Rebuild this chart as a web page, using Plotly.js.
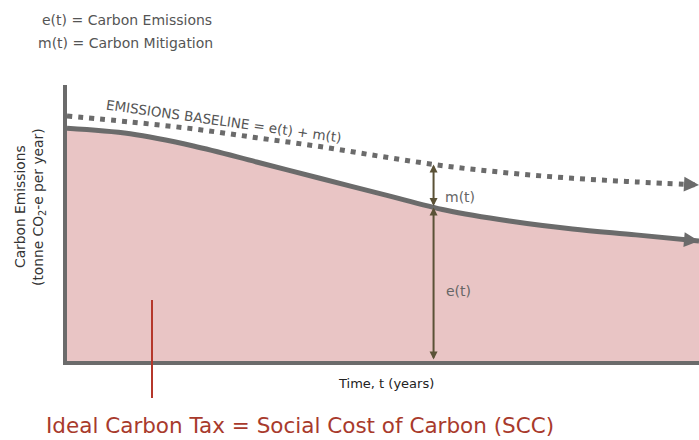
<!DOCTYPE html>
<html>
<head>
<meta charset="utf-8">
<script src="https://cdn.plot.ly/plotly-3.0.1.min.js"></script>
<style>html,body{margin:0;padding:0;background:#fff;}#chart{width:699px;height:440px;}</style>
</head>
<body>
<div id="chart"></div>
<script>
// Conceptual data (time in arbitrary years, emissions in arbitrary units)
const timeT = [0, 1, 2, 3, 4, 5, 6, 7, 8, 9, 10];
const emissions = [8.43, 8.23, 7.79, 7.21, 6.62, 6.04, 5.46, 5.07, 4.78, 4.57, 4.35];
const baseline = [8.88, 8.66, 8.41, 8.09, 7.77, 7.40, 7.06, 6.81, 6.62, 6.49, 6.38];
const markT = 5.8;
const baselineAtMark = 7.12;
const emissionsAtMark = 5.56;

const legendLines = ["e(t) = Carbon Emissions", "m(t) = Carbon Mitigation"];
const baselineLabel = "EMISSIONS BASELINE = e(t) + m(t)";
const yTitleLines = ["Carbon Emissions", "(tonne CO<sub>2</sub>-e per year)"];
const xTitle = "Time, t (years)";
const taxLabel = "Ideal Carbon Tax = Social Cost of Carbon (SCC)";

const GRAY = '#6b6b6b';
const L = 67, R = 699, T = 85, B = 361;
const P = (px, py) => ({x: (px - L) / (R - L), y: (B - py) / (B - T), xref: 'paper', yref: 'paper'});
const FONT = 'DejaVu Sans, sans-serif';

const n = timeT.length;
const traces = [
  {x: timeT, y: emissions, type: 'scatter', mode: 'lines', fill: 'tozeroy',
   fillcolor: '#e9c5c5', line: {color: GRAY, width: 5, shape: 'spline', smoothing: 1}, hoverinfo: 'skip'},
  {x: timeT, y: baseline, type: 'scatter', mode: 'lines',
   line: {color: GRAY, width: 5, shape: 'spline', smoothing: 1, dash: '5px,6px'}, hoverinfo: 'skip'}
];

function txt(text, px, py, opts) {
  return Object.assign(P(px, py), {text: text, showarrow: false, xanchor: 'center', yanchor: 'middle',
    font: {family: FONT, size: 14, color: '#555'}}, opts || {});
}

const annotations = [
  txt(legendLines[0], 40, 20, {xanchor: 'left'}),
  txt(legendLines[1], 36, 43, {xanchor: 'left'}),
  txt(baselineLabel, 224, 121, {textangle: 8, font: {family: FONT, size: 13.5, color: '#555'}}),
  txt('m(t)', 443, 197, {xanchor: 'left', font: {family: FONT, size: 14, color: '#666'}}),
  txt('e(t)', 444, 291, {xanchor: 'left', font: {family: FONT, size: 14, color: '#666'}}),
  txt(yTitleLines[0], 20, 207, {textangle: -90, font: {family: FONT, size: 13.8, color: '#333'}}),
  txt(yTitleLines[1], 39, 207, {textangle: -90, font: {family: FONT, size: 13.8, color: '#333'}}),
  txt(xTitle, 386, 383, {font: {family: FONT, size: 13, color: '#222'}}),
  txt(taxLabel, 300, 425, {font: {family: FONT, size: 21.5, color: '#a83a2c'}}),
  // arrow heads at ends of curves
  {x: timeT[n-1], y: emissions[n-1], ax: timeT[n-1] - 0.25, ay: emissions[n-1] + 0.05,
   xref: 'x', yref: 'y', axref: 'x', ayref: 'y', text: '', showarrow: true,
   arrowhead: 2, arrowwidth: 1, arrowsize: 3, arrowcolor: GRAY},
  {x: timeT[n-1], y: baseline[n-1], ax: timeT[n-1] - 0.25, ay: baseline[n-1] + 0.03,
   xref: 'x', yref: 'y', axref: 'x', ayref: 'y', text: '', showarrow: true,
   arrowhead: 2, arrowwidth: 1, arrowsize: 3, arrowcolor: GRAY},
  // double arrows m(t) and e(t)
  {x: markT, y: baselineAtMark, ax: markT, ay: emissionsAtMark,
   xref: 'x', yref: 'y', axref: 'x', ayref: 'y', text: '', showarrow: true,
   arrowside: 'end+start', arrowhead: 2, startarrowhead: 2, arrowwidth: 2, arrowsize: 0.8, startarrowsize: 0.8,
   arrowcolor: '#5b5237'},
  {x: markT, y: emissionsAtMark, ax: markT, ay: 0,
   xref: 'x', yref: 'y', axref: 'x', ayref: 'y', text: '', showarrow: true,
   arrowside: 'end+start', arrowhead: 2, startarrowhead: 2, arrowwidth: 2, arrowsize: 0.8, startarrowsize: 0.8,
   arrowcolor: '#5b5237'}
];

const shapes = [
  {type: 'line', line: {color: '#b5372b', width: 2},
   xref: 'paper', yref: 'paper', x0: (152 - L) / (R - L), x1: (152 - L) / (R - L),
   y0: (B - 300) / (B - T), y1: (B - 398) / (B - T)}
];

const axisCommon = {showgrid: false, zeroline: false, showticklabels: false, ticks: '',
  showline: true, linewidth: 4, linecolor: GRAY, fixedrange: true};

const layout = {
  width: 699, height: 440,
  margin: {l: L, r: 699 - R, t: T, b: 440 - B},
  paper_bgcolor: '#fff', plot_bgcolor: '#fff',
  showlegend: false,
  xaxis: Object.assign({range: [0, 10]}, axisCommon),
  yaxis: Object.assign({range: [0, 10]}, axisCommon),
  annotations: annotations,
  shapes: shapes
};

Plotly.newPlot('chart', traces, layout, {displayModeBar: false, staticPlot: true});
</script>
</body>
</html>
